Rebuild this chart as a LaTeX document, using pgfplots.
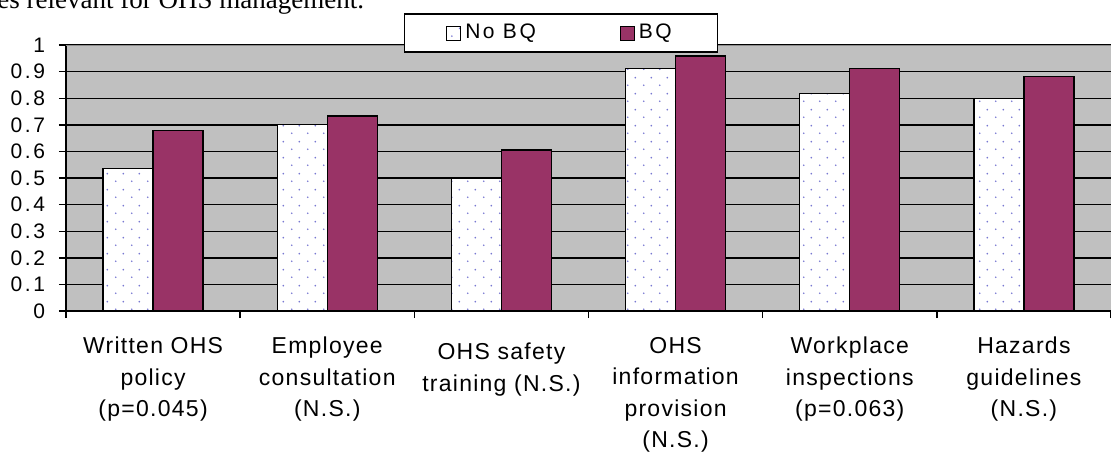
\documentclass[border=0pt]{standalone}
\usepackage{fontspec}
\setmainfont{Liberation Sans}
\newfontfamily\catfont{Liberation Sans}[LetterSpace=5.5]
\newfontfamily\tickfont{Liberation Sans}[LetterSpace=12]
\newfontfamily\legfont{Liberation Sans}[LetterSpace=12]
\newfontfamily\seriffont{Liberation Serif}
\usepackage{pgfplots}
\pgfplotsset{compat=1.18}
\usetikzlibrary{patterns.meta}
\definecolor{plum}{RGB}{153,51,102}
\definecolor{bgray}{RGB}{192,192,192}
\definecolor{dotc}{RGB}{120,120,210}
\definecolor{topgray}{RGB}{140,140,140}
\tikzdeclarepattern{
  name=sdots,
  type=uncolored,
  bounding box={(0pt,0pt) and (8pt,8pt)},
  tile size={(8pt,8pt)},
  code={
    \pgfpathcircle{\pgfqpoint{2pt}{2pt}}{0.5pt}
    \pgfpathcircle{\pgfqpoint{6pt}{6pt}}{0.5pt}
    \pgfusepath{fill}
  }
}
\begin{document}
\begin{tikzpicture}
\useasboundingbox (-33pt,-72.5pt) rectangle (522.5pt,155.5pt);
\node[anchor=base west, inner sep=0pt, font=\seriffont\fontsize{13.5}{16}\selectfont] at (-34.5pt,151pt) {es relevant for OHS management.};
\begin{axis}[
  at={(0pt,0pt)}, anchor=south west,
  scale only axis, width=522.5pt, height=133pt,
  xmin=-0.5, xmax=5.5, ymin=0, ymax=1,
  enlargelimits=false,
  axis x line*=bottom, axis y line*=left,
  axis line style={black, line width=0.7pt},
  axis background/.style={fill=bgray},
  tick align=outside,
  major tick length=3.5pt,
  tick style={black, line width=0.7pt},
  xtick={-0.5,0.5,1.5,2.5,3.5,4.5,5.5},
  xticklabels={{Written OHS\\policy\\(p=0.045)},{Employee\\consultation\\(N.S.)},{\rule{0pt}{11.4pt}OHS safety\\training (N.S.)},{OHS\\information\\provision\\(N.S.)},{Workplace\\inspections\\(p=0.063)},{Hazards\\guidelines\\(N.S.)},{}},
  xticklabel style={font=\catfont\fontsize{11.5}{15.75}\selectfont, align=center, xshift=43.54pt, anchor=north, yshift=-6pt},
  ytick={0,0.1,0.2,0.3,0.4,0.5,0.6,0.7,0.8,0.9,1},
  yticklabels={0,0.1,0.2,0.3,0.4,0.5,0.6,0.7,0.8,0.9,1},
  yticklabel style={font=\tickfont\fontsize{10.5}{12}\selectfont, xshift=-3.5pt},
  /pgf/number format/assume math mode=true,
  ymajorgrids, grid style={black, line width=0.7pt},
  legend columns=2,
  legend style={at={(0.4737,1.045)}, anchor=center, draw=black, line width=0.75pt, fill=white,
    font=\legfont\fontsize{10.5}{12}\selectfont, inner xsep=21pt, inner ysep=3pt,
    /tikz/every even column/.append style={column sep=40pt}},
  legend image code/.code={\draw[#1, line width=0.5pt] (0pt,-3.5pt) rectangle (7pt,3.5pt);},
]
\addplot[ybar, bar width=0.287, bar shift=-0.1435, fill=white, draw=black, line width=0.6pt,
  postaction={pattern=sdots, pattern color=dotc}]
  coordinates {(0,0.536) (1,0.700) (2,0.497) (3,0.912) (4,0.817) (5,0.800)};
\addlegendentry{No BQ}
\addplot[ybar, bar width=0.287, bar shift=0.1435, fill=plum, draw=black, line width=0.6pt]
  coordinates {(0,0.680) (1,0.733) (2,0.605) (3,0.959) (4,0.912) (5,0.883)};
\addlegendentry{BQ}
\draw[topgray, line width=0.8pt] (rel axis cs:0,1) -- (rel axis cs:1,1);
\end{axis}
\end{tikzpicture}
\end{document}
